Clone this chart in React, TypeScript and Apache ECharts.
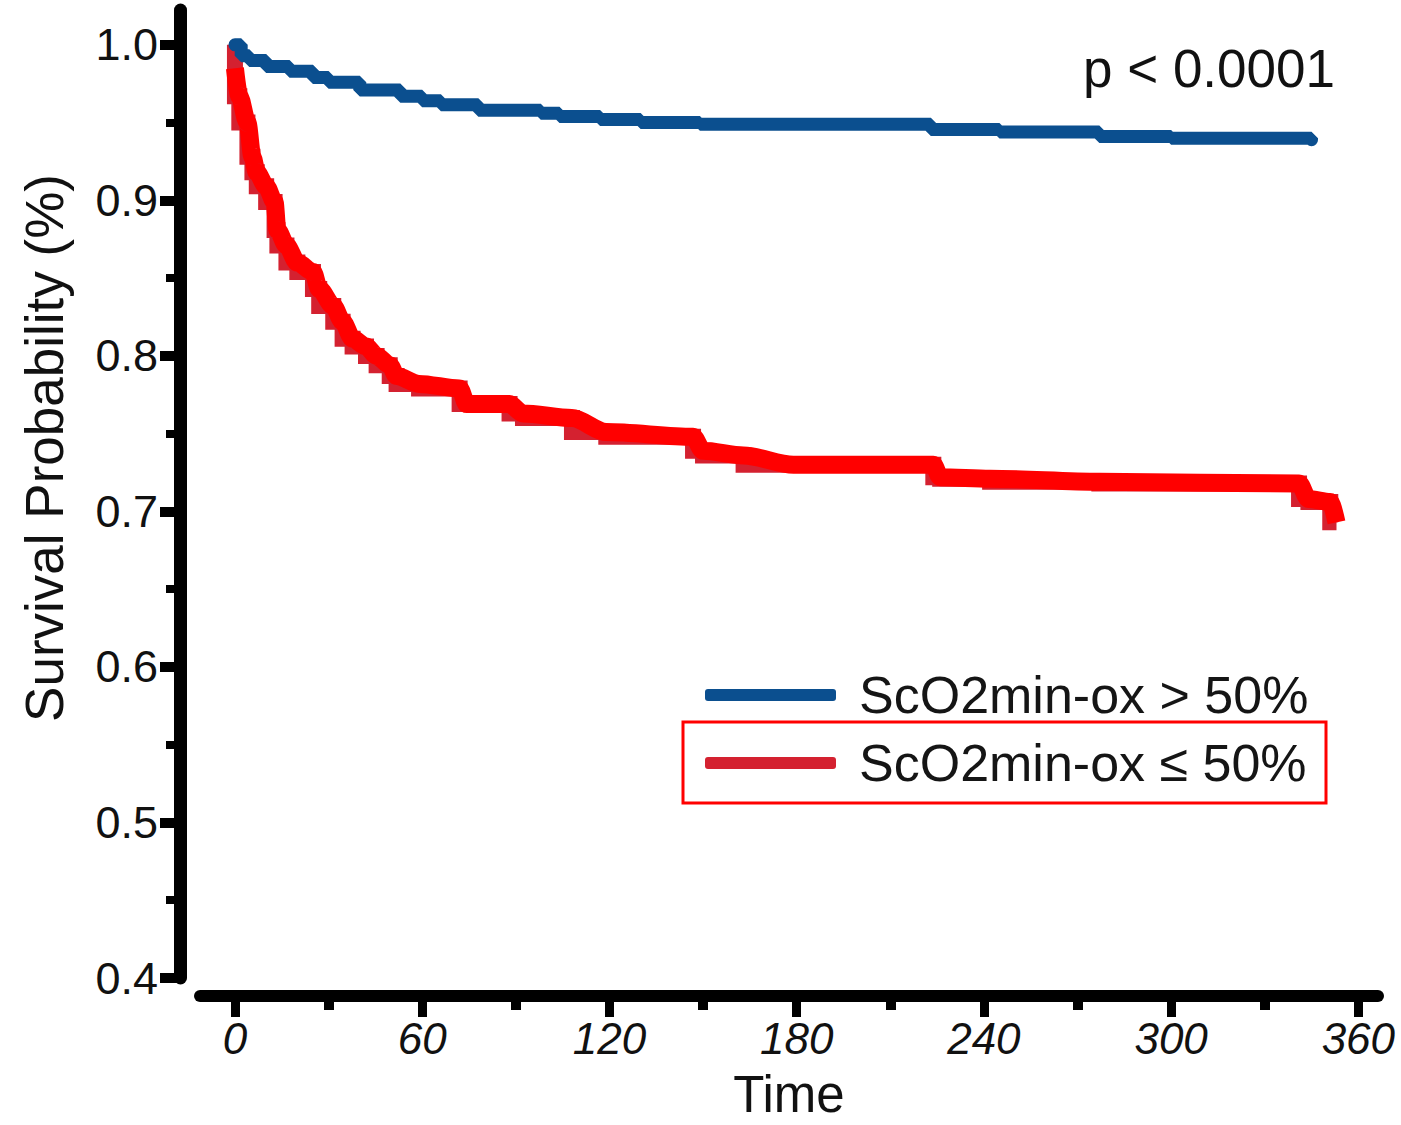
import React, { useEffect, useRef } from "react";
import * as echarts from "echarts";

const xMajorTicks = [0, 60, 120, 180, 240, 300, 360];
const xMinorTicks = [30, 90, 150, 210, 270, 330];
const yMajorTicks = [0.4, 0.5, 0.6, 0.7, 0.8, 0.9, 1.0];
const yMinorTicks = [0.45, 0.55, 0.65, 0.75, 0.85, 0.95];

const seriesHigh = "ScO2min-ox > 50%";
const seriesLow = "ScO2min-ox \u2264 50%";

// ScO2min-ox > 50% (blue)
const blueTime = [0, 2, 4.6, 10, 17.5, 25, 30, 40, 53, 60, 66, 78, 98, 104, 117, 130, 149, 216, 223, 245, 277, 300, 345];
const blueSurv = [1.0, 0.993, 0.99, 0.986, 0.983, 0.979, 0.976, 0.971, 0.967, 0.964, 0.9615, 0.958, 0.956, 0.954, 0.952, 0.95, 0.949, 0.949, 0.9455, 0.944, 0.941, 0.94, 0.939];

// ScO2min-ox <= 50% (red)
const redTime = [0, 1.4, 4, 5.6, 7, 10, 12.7, 13.6, 16.5, 20, 25, 27, 31.5, 34.5, 37.7, 42, 45.4, 49.6, 51.8, 59, 72, 74.3, 88, 92.3, 108, 119, 146.8, 150, 163, 179, 223.8, 226, 242, 277, 341, 344, 351, 353];
const redSurv = [0.985, 0.967, 0.95, 0.928, 0.918, 0.909, 0.899, 0.881, 0.871, 0.86, 0.854, 0.843, 0.832, 0.822, 0.811, 0.806, 0.8, 0.794, 0.787, 0.782, 0.779, 0.769, 0.769, 0.763, 0.76, 0.751, 0.748, 0.739, 0.736, 0.73, 0.73, 0.722, 0.721, 0.719, 0.718, 0.708, 0.706, 0.693];

const FONT = "'Liberation Sans', Arial, Helvetica, sans-serif";

export default function App() {
  const ref = useRef<HTMLDivElement>(null);

  useEffect(() => {
    if (!ref.current) return;
    const chart = echarts.init(ref.current, null, { renderer: "svg" });

    const blueData = blueTime.map((t, i) => [t, blueSurv[i]]);
    const redDark = [[0, 1.0], ...redTime.map((t, i) => [t, redSurv[i]])];
    const redBright = redTime.map((t, i) => [t, redSurv[i]]);

    const xBase = {
      type: "value" as const,
      min: -11.2,
      max: 366.3,
      position: "bottom" as const,
      offset: 18,
      splitLine: { show: false },
    };
    const yBase = {
      type: "value" as const,
      min: 0.4,
      max: 1.0224,
      position: "left" as const,
      offset: 20,
      splitLine: { show: false },
    };

    chart.setOption({
      animation: false,
      backgroundColor: "#ffffff",
      grid: { left: 200, right: 23, top: 10, bottom: 144, containLabel: false },
      xAxis: [
        {
          ...xBase,
          axisLine: { show: true, onZero: false, lineStyle: { color: "#000", width: 12 } },
          axisTick: { show: true, customValues: xMajorTicks, length: 21, lineStyle: { color: "#000", width: 9 } },
          axisLabel: {
            show: true,
            customValues: xMajorTicks,
            fontSize: 44,
            fontStyle: "italic",
            fontFamily: FONT,
            color: "#111",
            margin: 20,
          },
          name: "Time",
          nameLocation: "middle",
          nameGap: 73,
          nameTextStyle: { fontSize: 51, fontFamily: FONT, color: "#111" },
        },
        {
          ...xBase,
          axisLine: { show: false, onZero: false },
          axisTick: { show: true, customValues: xMinorTicks, length: 14, lineStyle: { color: "#000", width: 10 } },
          axisLabel: { show: false },
        },
      ],
      yAxis: [
        {
          ...yBase,
          axisLine: { show: true, onZero: false, lineStyle: { color: "#000", width: 13 } },
          axisTick: { show: true, customValues: yMajorTicks, length: 20, lineStyle: { color: "#000", width: 10 } },
          axisLabel: {
            show: true,
            customValues: yMajorTicks,
            formatter: (v: number) => v.toFixed(1),
            fontSize: 45,
            fontFamily: FONT,
            color: "#111",
            margin: 22,
            padding: [0, 0, 14, 0],
          },
        },
        {
          ...yBase,
          axisLine: { show: false, onZero: false },
          axisTick: { show: true, customValues: yMinorTicks, length: 14, lineStyle: { color: "#000", width: 8 } },
          axisLabel: { show: false },
        },
      ],
      legend: {
        data: [seriesHigh, seriesLow],
        orient: "vertical",
        left: 700,
        top: 662,
        itemWidth: 131,
        itemHeight: 12,
        itemGap: 12,
        icon: "roundRect",
        selectedMode: false,
        textStyle: {
          fontSize: 52,
          fontFamily: FONT,
          color: "#151515",
          lineHeight: 56,
          padding: [0, 0, 0, 18],
        },
      },
      series: [
        {
          name: seriesLow,
          type: "line",
          xAxisIndex: 0,
          yAxisIndex: 0,
          data: redDark,
          step: "start",
          showSymbol: false,
          symbol: "none",
          itemStyle: { color: "#d42130" },
          lineStyle: { color: "#d42130", width: 16, join: "miter" },
          z: 2,
        },
        {
          name: "redTrace",
          type: "line",
          xAxisIndex: 0,
          yAxisIndex: 0,
          data: redBright,
          smooth: 0.3,
          smoothMonotone: "x",
          showSymbol: false,
          symbol: "none",
          itemStyle: { color: "#ff0000" },
          lineStyle: { color: "#ff0000", width: 18, cap: "butt", join: "round" },
          z: 3,
        },
        {
          name: seriesHigh,
          type: "line",
          xAxisIndex: 0,
          yAxisIndex: 0,
          data: blueData,
          step: "end",
          showSymbol: false,
          symbol: "none",
          itemStyle: { color: "#0b4f8f" },
          lineStyle: { color: "#0b4f8f", width: 13, cap: "round" },
          z: 4,
        },
      ],
      graphic: [
        {
          type: "text",
          x: 44,
          y: 448,
          rotation: Math.PI / 2,
          style: {
            text: "Survival Probability (%)",
            fontSize: 53,
            fontFamily: FONT,
            fill: "#111",
            align: "center",
            verticalAlign: "middle",
          },
        },
        {
          type: "text",
          x: 1335,
          y: 68,
          style: {
            text: "p < 0.0001",
            fontSize: 53,
            fontFamily: FONT,
            fill: "#111",
            align: "right",
            verticalAlign: "middle",
          },
        },
        {
          type: "rect",
          shape: { x: 683, y: 722, width: 643, height: 81 },
          style: { fill: "none", stroke: "#ff0000", lineWidth: 3 },
        },
      ],
    });

    return () => chart.dispose();
  }, []);

  return (
    <div
      ref={ref}
      style={{ position: "fixed", left: 0, top: 0, width: 1401, height: 1125, background: "#fff" }}
    />
  );
}
